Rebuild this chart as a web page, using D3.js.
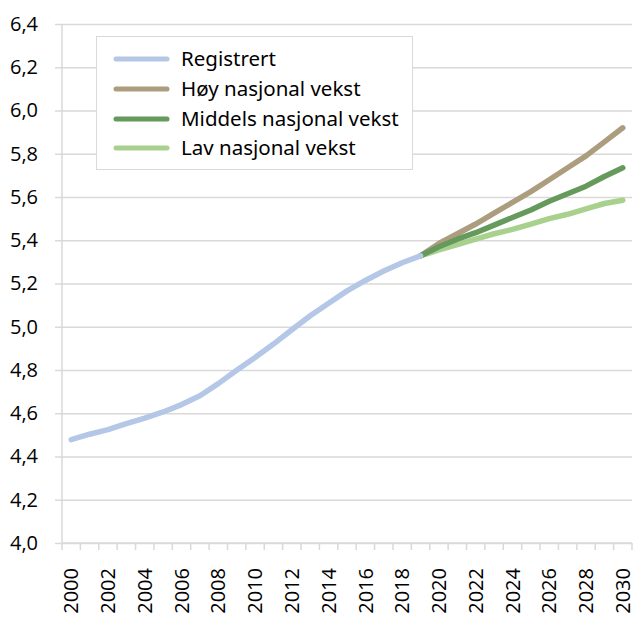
<!DOCTYPE html>
<html><head><meta charset="utf-8">
<script src="https://cdn.jsdelivr.net/npm/d3@7"></script>
<style>body{margin:0;background:#fff}svg{display:block}</style>
</head><body>
<script>
const years = d3.range(2000, 2031);
const registrertYears = d3.range(2000, 2020);
const registrert = [4.478,4.503,4.524,4.552,4.577,4.606,4.640,4.681,4.737,4.799,4.858,4.920,4.986,5.051,5.109,5.166,5.214,5.258,5.296,5.328];
const prognoseYears = d3.range(2019, 2031);
const hoy     = [5.328,5.385,5.430,5.475,5.525,5.575,5.625,5.680,5.735,5.790,5.855,5.920];
const middels = [5.328,5.370,5.405,5.435,5.470,5.505,5.540,5.580,5.615,5.650,5.695,5.735];
const lav     = [5.328,5.355,5.380,5.405,5.430,5.450,5.475,5.500,5.520,5.545,5.570,5.585];
const yTicks = [4.0,4.2,4.4,4.6,4.8,5.0,5.2,5.4,5.6,5.8,6.0,6.2,6.4];
const xTickLabels = d3.range(2000, 2031, 2);
const seriesNames = ["Registrert","Høy nasjonal vekst","Middels nasjonal vekst","Lav nasjonal vekst"];
const colors = ["#b4c7e7","#ac9d7f","#659a5c","#a9d18e"];

const W = 637, H = 619;
const m = {left:62, right:5, top:24, bottom:76};
const svg = d3.select("body").append("svg").attr("width",W).attr("height",H);

const x = d3.scaleBand().domain(years).range([m.left, W - m.right]).paddingInner(0).paddingOuter(0);
const y = d3.scaleLinear().domain([4.0, 6.4]).range([H - m.bottom, m.top]);
const fmt = d => d.toFixed(1).replace(".", ",");

// gridlines + y axis
const yAxis = d3.axisLeft(y).tickValues(yTicks).tickFormat(fmt)
  .tickSize(-(W - m.right - m.left)).tickSizeOuter(0).tickPadding(24);
const gy = svg.append("g").attr("transform",`translate(${m.left},0)`).call(yAxis);
gy.select(".domain").remove();
gy.selectAll(".tick line").attr("stroke","#d9d9d9").attr("stroke-width",1.5).attr("x1",-7);
gy.selectAll(".tick text").attr("fill","#000").style("font-family","'Open Sans', sans-serif").style("font-size","20px");
svg.append("line").attr("x1",m.left).attr("x2",m.left).attr("y1",m.top).attr("y2",H-m.bottom)
  .attr("stroke","#d9d9d9").attr("stroke-width",1.5);

// x axis
const gx = svg.append("g").attr("transform",`translate(0,${H-m.bottom})`);
gx.append("line").attr("x1",m.left).attr("x2",W-m.right).attr("stroke","#d9d9d9").attr("stroke-width",1.5);
const bounds = years.map(d => x(d)).concat([x(years[years.length-1]) + x.bandwidth()]);
gx.selectAll("line.tk").data(bounds).join("line").attr("class","tk")
  .attr("x1",d=>d).attr("x2",d=>d).attr("y1",0).attr("y2",7).attr("stroke","#d9d9d9").attr("stroke-width",1.5);
gx.selectAll("text").data(xTickLabels).join("text")
  .attr("transform", d => `translate(${x(d)+x.bandwidth()/2},25) rotate(-90)`)
  .attr("text-anchor","end").attr("dy","0.36em")
  .style("font-family","'Open Sans', sans-serif").style("font-size","20px").attr("fill","#000")
  .text(d => d);

// lines
const line = d3.line().x(d => x(d[0]) + x.bandwidth()/2).y(d => y(d[1]));
const series = [
  d3.zip(registrertYears, registrert),
  d3.zip(prognoseYears, hoy),
  d3.zip(prognoseYears, middels),
  d3.zip(prognoseYears, lav)
];
[3,1,2,0].forEach(i => {
  svg.append("path").datum(series[i]).attr("d", line).attr("fill","none")
    .attr("stroke", colors[i]).attr("stroke-width",5.5).attr("stroke-linecap","round").attr("stroke-linejoin","round");
});

// legend
const lg = svg.append("g");
lg.append("rect").attr("x",96.5).attr("y",36.5).attr("width",316).attr("height",133)
  .attr("fill","#fff").attr("stroke","#d9d9d9").attr("stroke-width",1);
const rowY = [59, 89, 119, 148];
seriesNames.forEach((n,i) => {
  lg.append("line").attr("x1",116).attr("x2",167).attr("y1",rowY[i]).attr("y2",rowY[i])
    .attr("stroke",colors[i]).attr("stroke-width",5).attr("stroke-linecap","round");
  lg.append("text").attr("x",181).attr("y",rowY[i]).attr("dy","0.35em")
    .style("font-family","'Noto Sans', sans-serif").style("font-size","20.5px").attr("fill","#000").text(n);
});
</script>
</body></html>
